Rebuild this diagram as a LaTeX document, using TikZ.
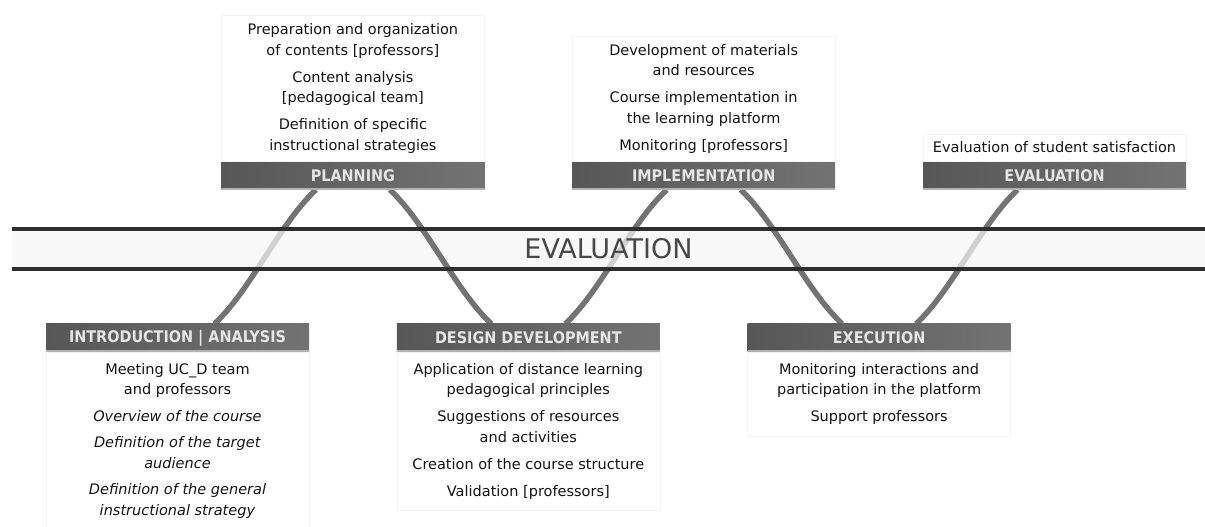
\documentclass[tikz,border=0pt]{standalone}
\usepackage{fontspec}
\setmainfont{DejaVu Sans}
\newfontfamily\barfont{DejaVu Sans Condensed}
\usetikzlibrary{calc,positioning,backgrounds}

\begin{document}
\begin{tikzpicture}[x=1pt, y=1pt, node distance=0pt,
    phase/.style={rectangle, minimum width=263pt, minimum height=28pt, inner sep=0pt,
      left color=black!66, right color=black!55, text=white!90!black,
      font=\barfont\bfseries\fontsize{16}{18}\selectfont,
      path picture={\fill[black!30] (path picture bounding box.south west) rectangle ([yshift=2pt]path picture bounding box.south east);}},
    notes/.style={rectangle, draw=black!4, fill=white, minimum width=263pt, align=center,
      inner ysep=8pt, text=black!92, font=\fontsize{14.5}{20.5}\selectfont},
    lownotes/.style={notes, inner ysep=11pt},
    wave/.style={line width=5.5pt, draw=black!55},
    rising/.style={wave, out=43, in=-137, out distance=50pt, in distance=50pt},
    falling/.style={wave, out=-43, in=137, out distance=50pt, in distance=50pt},
    bandline/.style={line width=4pt, draw=black!82}]
    \useasboundingbox (0,0) rectangle (1205,527);

    \node[phase] (intro) at (177.5,189) {INTRODUCTION | ANALYSIS};
    \node[phase, above right=134pt and -88pt of intro] (planning) {PLANNING};
    \node[phase, below right=134pt and -88pt of planning] (design) {DESIGN DEVELOPMENT};
    \node[phase, above right=134pt and -88pt of design] (implementation) {IMPLEMENTATION};
    \node[phase, below right=134pt and -88pt of implementation] (execution) {EXECUTION};
    \node[phase, above right=134pt and -88pt of execution] (evaluation) {EVALUATION};

    \node[notes, above=of planning] (planningnotes) {Preparation and organization\\of contents [professors]\\[6.5pt]
      Content analysis\\{[}pedagogical team]\\[6.5pt]
      Definition of specific\\instructional strategies};
    \node[notes, above=of implementation] (implementationnotes) {Development of materials\\and resources\\[6.5pt]
      Course implementation in\\the learning platform\\[6.5pt]
      Monitoring [professors]};
    \node[notes, above=of evaluation] (evaluationnotes) {Evaluation of student satisfaction};
    \node[lownotes, below=of intro] (intronotes) {Meeting UC\_D team\\and professors\\[6pt]
      \textit{Overview of the course}\\[6pt]
      \textit{Definition of the target}\\\textit{audience}\\[6pt]
      \textit{Definition of the general}\\\textit{instructional strategy}};
    \node[lownotes, below=of design] (designnotes) {Application of distance learning\\pedagogical principles\\[6.5pt]
      Suggestions of resources\\and activities\\[6.5pt]
      Creation of the course structure\\[6.5pt]
      Validation [professors]};
    \node[lownotes, below=of execution] (executionnotes) {Monitoring interactions and\\participation in the platform\\[6.5pt]
      Support professors};

    \begin{scope}[on background layer]
    \draw[rising] ($(intro.north)+(37,0)$) to ($(planning.south)+(-37,0)$);
    \draw[rising] ($(design.north)+(37,0)$) to ($(implementation.south)+(-37,0)$);
    \draw[rising] ($(execution.north)+(37,0)$) to ($(evaluation.south)+(-37,0)$);
    \node[minimum width=1193pt, minimum height=40pt, fill=black!4, fill opacity=.72, text opacity=1,
      text=black!72, font=\fontsize{27}{30}\selectfont] (band) at (608.5,278) {EVALUATION};
    \draw[falling] ($(planning.south)+(37,0)$) to ($(design.north)+(-37,0)$);
    \draw[falling] ($(implementation.south)+(37,0)$) to ($(execution.north)+(-37,0)$);
    \draw[bandline] (band.north west) -- (band.north east);
    \draw[bandline] (band.south west) -- (band.south east);
    \end{scope}
\end{tikzpicture}
\end{document}
